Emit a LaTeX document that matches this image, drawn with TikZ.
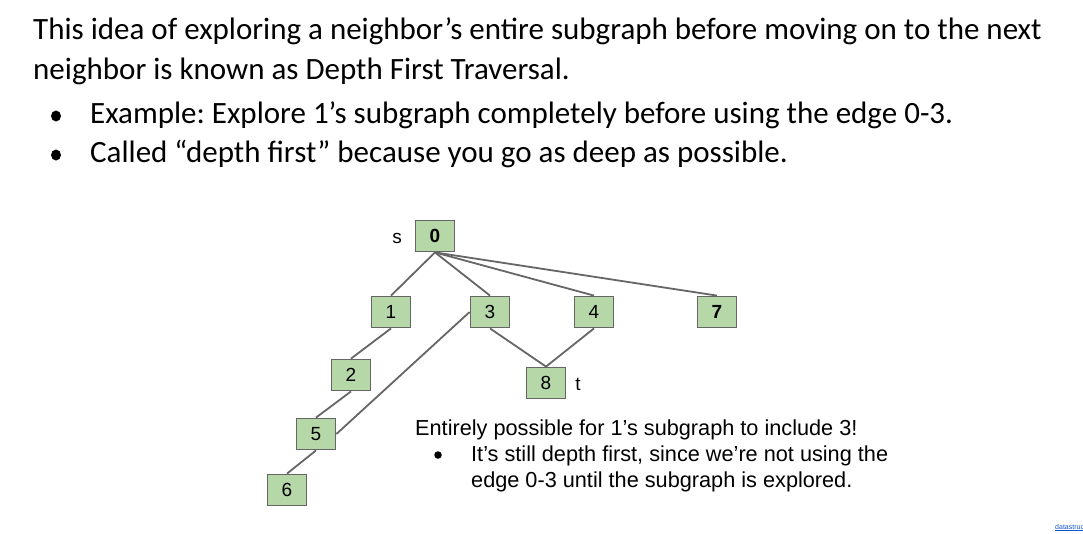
\documentclass[tikz,border=0pt]{standalone}
\usepackage{fontspec}
\usetikzlibrary{shapes.geometric}
\setmainfont{Carlito}
\newfontfamily\arialf{Liberation Sans}
\definecolor{boxfill}{HTML}{B6D7A8}
\definecolor{boxline}{HTML}{666666}
\definecolor{edgecol}{HTML}{666666}
\definecolor{linkcol}{HTML}{1155CC}
\frenchspacing
\begin{document}
\begin{tikzpicture}[x=1pt,y=-1pt,
  vbox/.style={draw=boxline, line width=1.8pt, fill=boxfill, minimum width=39pt, minimum height=31pt, inner sep=0pt, font=\arialf\fontsize{19}{19}\selectfont},
  edge/.style={draw=edgecol, line width=1.8pt},
  toptext/.style={anchor=base west, inner sep=0pt, font=\fontsize{31}{36}\selectfont},
  difftext/.style={anchor=base west, inner sep=0pt, font=\arialf\fontsize{21.7}{26}\selectfont},
  lbl/.style={anchor=base, inner sep=0pt, font=\arialf\fontsize{19}{19}\selectfont},
  bigdot/.style={ellipse, fill=black, inner sep=0pt, minimum width=10pt, minimum height=11pt},
  smalldot/.style={circle, fill=black, inner sep=0pt, minimum size=7.5pt}]
\useasboundingbox (0,0) rectangle (1083,533);
\fill[white] (0,0) rectangle (1083,533);

% heading text
\node[toptext] (l1) at (33,39) {This idea of exploring a neighbor’s entire subgraph before moving on to the next};
\node[toptext] (l2) at (33,79) {neighbor is known as Depth First Traversal.};
\node[bigdot] (b1) at (56,116) {};
\node[toptext] (l3) at (90,123) {Example: Explore 1’s subgraph completely before using the edge 0-3.};
\node[bigdot] (b2) at (56,155) {};
\node[toptext] (l4) at (90,162) {Called “depth first” because you go as deep as possible.};

% vertices
\node[vbox] (n0) at (435,236) {\textbf{0}};
\node[vbox] (n1) at (391,312) {1};
\node[vbox] (n3) at (490,312) {3};
\node[vbox] (n4) at (594,312) {4};
\node[vbox] (n7) at (717,312) {\textbf{7}};
\node[vbox] (n2) at (351,375) {2};
\node[vbox] (n8) at (546,383) {8};
\node[vbox] (n5) at (316,434) {5};
\node[vbox] (n6) at (287,490) {6};

\node[lbl] (s) at (397,243) {s};
\node[lbl] (t) at (578,390) {t};

% edges
\draw[edge] (n0.south) -- (n1.north);
\draw[edge] (n0.south) -- (n3.north);
\draw[edge] (n0.south) -- (n4.north);
\draw[edge] (n0.south) -- (n7.north);
\draw[edge] (n1.south) -- (n2.north);
\draw[edge] (n2.south) -- (n5.north);
\draw[edge] (n5.south) -- (n6.north);
\draw[edge] (n3.south) -- (n8.north);
\draw[edge] (n4.south) -- (n8.north);
\draw[edge] (n3.west) -- (n5.east);

% annotation
\node[difftext] (a1) at (415,435) {Entirely possible for 1’s subgraph to include 3!};
\node[smalldot] (b3) at (438,455) {};
\node[difftext] (a2) at (471,461) {It’s still depth first, since we’re not using the};
\node[difftext] (a3) at (471,487) {edge 0-3 until the subgraph is explored.};

% footer link
\node[anchor=base west, inner sep=0pt, text=linkcol, font=\arialf\fontsize{7}{8}\selectfont] (link) at (1055,529) {\underline{datastructur.es}};
\end{tikzpicture}
\end{document}
